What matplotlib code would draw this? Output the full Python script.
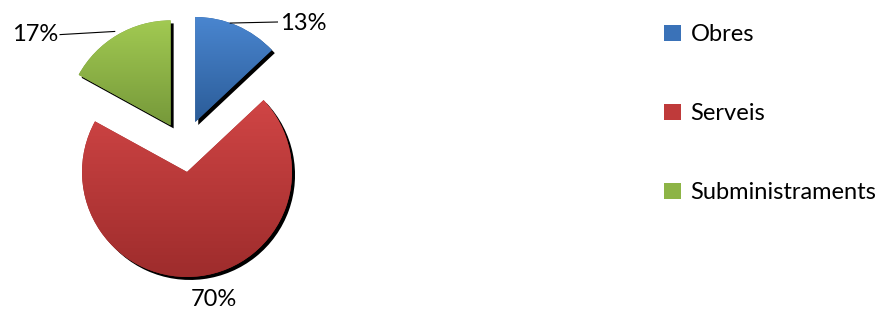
import numpy as np
import matplotlib
matplotlib.use('agg')
import matplotlib.pyplot as plt
import matplotlib.patches as patches
import matplotlib.transforms as mtransforms
from matplotlib.colors import LinearSegmentedColormap

# Data
categories = ['Obres', 'Serveis', 'Subministraments']
shares = [13, 70, 17]
top_colors = ['#4A86D0', '#D04545', '#A2CA52']
bottom_colors = ['#2B5C98', '#9E2C2C', '#76993A']

plt.rcParams['font.family'] = ['Lato', 'DejaVu Sans']

fig = plt.figure(figsize=(8.8, 3.12), dpi=100)

# Pie axes: centre at (184, 148) px from top-left, radius 105 px
L = 1.45
r_px = 105
w_px = 2 * L * r_px
cx, cy = 184, 312 - 148
ax = fig.add_axes([(cx - w_px / 2) / 880, (cy - w_px / 2) / 312, w_px / 880, w_px / 312])

wedges, _ = ax.pie(shares, colors=[c for c in bottom_colors], startangle=90,
                   counterclock=False, explode=[0.27, 0.23, 0.25], radius=1,
                   wedgeprops=dict(linewidth=0))
ax.set_aspect('equal')
ax.axis('off')

# Shadows and gradient fills
shadow_tr = mtransforms.offset_copy(ax.transData, fig=fig, x=3, y=-3, units='dots')
for w, ct, cb in zip(wedges, top_colors, bottom_colors):
    sh = patches.Wedge(w.center, w.r, w.theta1, w.theta2, facecolor='black',
                       edgecolor='none', transform=shadow_tr, zorder=0.5)
    ax.add_patch(sh)
    w.set_zorder(1)
    ext = w.get_path().get_extents()
    cmap = LinearSegmentedColormap.from_list('g', [cb, ct])
    grad = np.linspace(0, 1, 256).reshape(-1, 1)
    im = ax.imshow(grad, cmap=cmap, origin='lower', aspect='auto',
                   extent=[ext.x0, ext.x1, ext.y0, ext.y1], zorder=1.5)
    im.set_clip_path(w)

ax.set_xlim(-L, L)
ax.set_ylim(-L, L)

# Data labels with leader lines
lbl = ['%d%%' % s for s in shares]
ax.plot([0.44, 0.89], [1.19, 1.20], color='black', lw=0.8, clip_on=False)
ax.text(0.91, 1.19, lbl[0], ha='left', va='center', fontsize=17, clip_on=False)
ax.plot([-1.18, -0.66], [1.08, 1.11], color='black', lw=0.8, clip_on=False)
ax.text(-1.20, 1.08, lbl[2], ha='right', va='center', fontsize=17, clip_on=False)
ax.text(0.28, -1.44, lbl[1], ha='center', va='center', fontsize=17, clip_on=False)

# Legend
handles = [patches.Patch(facecolor=c, edgecolor='none') for c in
           ['#3A72B8', '#BF3A3A', '#8DB446']]
fig.legend(handles, categories, loc='upper left', bbox_to_anchor=(655 / 880, 1 - 15 / 312),
           frameon=False, fontsize=17, handlelength=0.7, handleheight=0.7,
           handletextpad=0.4, labelspacing=2.45, borderaxespad=0)

fig.savefig('out.png', dpi=100)
